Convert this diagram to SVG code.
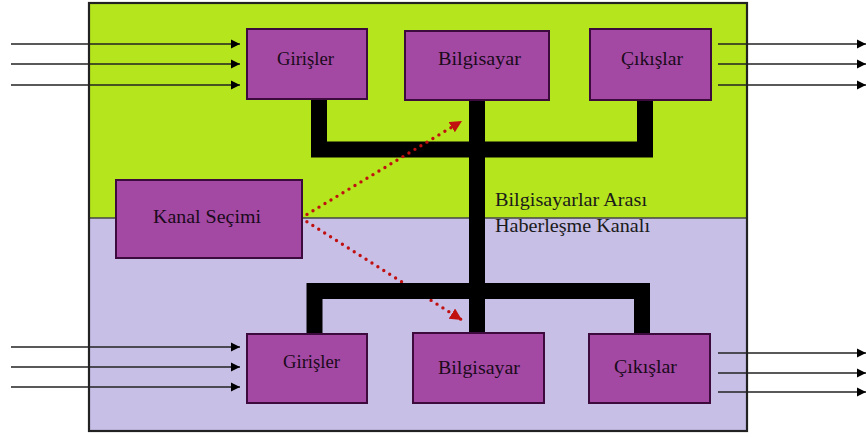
<svg xmlns="http://www.w3.org/2000/svg" width="866" height="437" viewBox="0 0 866 437">
<style>
.box{fill:#A349A4;stroke:#3d0a3d;stroke-width:2}
.lbl{font-family:"Liberation Serif","Times New Roman",serif;font-size:19px;fill:#1a0a1a}
.note{font-family:"Liberation Serif","Times New Roman",serif;font-size:19px;fill:#1a1a1a}
.io{stroke:#222;stroke-width:1.6;fill:none;marker-end:url(#ah)}
.bus{stroke:#000;stroke-width:16;fill:none;stroke-linejoin:miter}
.dot{stroke:#C01010;stroke-width:3.4;stroke-linecap:round;stroke-dasharray:0 7;fill:none}
</style>
<defs>
<marker id="ah" markerWidth="10" markerHeight="10" refX="9" refY="5" orient="auto" markerUnits="userSpaceOnUse">
<path d="M0,0.5 L9,5 L0,9.5 Z" fill="#000"/>
</marker>
<marker id="rh" markerWidth="14" markerHeight="14" refX="12" refY="6" orient="auto" markerUnits="userSpaceOnUse">
<path d="M0,0 L12,6 L0,12 Z" fill="#C01010"/>
</marker>
</defs>
<rect width="866" height="437" fill="#fff"/>
<g id="frame">
<rect x="89" y="3" width="658" height="215" fill="#B5E61D"/>
<rect x="89" y="218" width="658" height="213" fill="#C8BFE7"/>
<line x1="89" y1="218" x2="747" y2="218" stroke="#444" stroke-width="1.5"/>
<rect x="89" y="3" width="658" height="428" fill="none" stroke="#222" stroke-width="2.2"/>
</g>
<g id="connectors">
<path class="dot" d="M301,218 L462,320" marker-end="url(#rh)"/>
<path class="bus" d="M319,100 V149.5 H645 V100"/>
<path class="bus" d="M314.5,334 V291 H642 V334"/>
<path class="bus" d="M477,100 V333"/>
<path class="dot" d="M301,218 L462,121" marker-end="url(#rh)"/>
<line class="io" x1="11" y1="44" x2="240" y2="44"/>
<line class="io" x1="11" y1="64" x2="240" y2="64"/>
<line class="io" x1="11" y1="85" x2="240" y2="85"/>
<line class="io" x1="11" y1="347" x2="240" y2="347"/>
<line class="io" x1="11" y1="367" x2="240" y2="367"/>
<line class="io" x1="11" y1="387" x2="240" y2="387"/>
<line class="io" x1="718" y1="44" x2="866" y2="44"/>
<line class="io" x1="718" y1="64" x2="866" y2="64"/>
<line class="io" x1="718" y1="85" x2="866" y2="85"/>
<line class="io" x1="718" y1="353" x2="866" y2="353"/>
<line class="io" x1="718" y1="373" x2="866" y2="373"/>
<line class="io" x1="718" y1="392" x2="866" y2="392"/>
</g>
<g id="girisler-top">
<rect class="box" x="247" y="29" width="120" height="70"/>
<text class="lbl" x="277" y="65" textLength="57" lengthAdjust="spacingAndGlyphs">Girişler</text>
</g>
<g id="bilgisayar-top">
<rect class="box" x="405" y="31" width="144" height="69"/>
<text class="lbl" x="438" y="65" textLength="83" lengthAdjust="spacingAndGlyphs">Bilgisayar</text>
</g>
<g id="cikislar-top">
<rect class="box" x="590" y="29" width="121" height="71"/>
<text class="lbl" x="621" y="65" textLength="62" lengthAdjust="spacingAndGlyphs">Çıkışlar</text>
</g>
<g id="kanal-secimi">
<rect class="box" x="116" y="180" width="186" height="78"/>
<text class="lbl" x="153" y="223" textLength="108" lengthAdjust="spacingAndGlyphs">Kanal Seçimi</text>
</g>
<g id="girisler-bottom">
<rect class="box" x="247" y="334" width="120" height="69"/>
<text class="lbl" x="283" y="368" textLength="57" lengthAdjust="spacingAndGlyphs">Girişler</text>
</g>
<g id="bilgisayar-bottom">
<rect class="box" x="413" y="333" width="131" height="70"/>
<text class="lbl" x="438" y="374" textLength="82" lengthAdjust="spacingAndGlyphs">Bilgisayar</text>
</g>
<g id="cikislar-bottom">
<rect class="box" x="589" y="334" width="121" height="69"/>
<text class="lbl" x="614" y="373" textLength="63" lengthAdjust="spacingAndGlyphs">Çıkışlar</text>
</g>
<g id="channel-label">
<text class="note" x="495" y="206" textLength="152" lengthAdjust="spacingAndGlyphs">Bilgisayarlar Arası</text>
<text class="note" x="495" y="232" textLength="155" lengthAdjust="spacingAndGlyphs">Haberleşme Kanalı</text>
</g>
</svg>
